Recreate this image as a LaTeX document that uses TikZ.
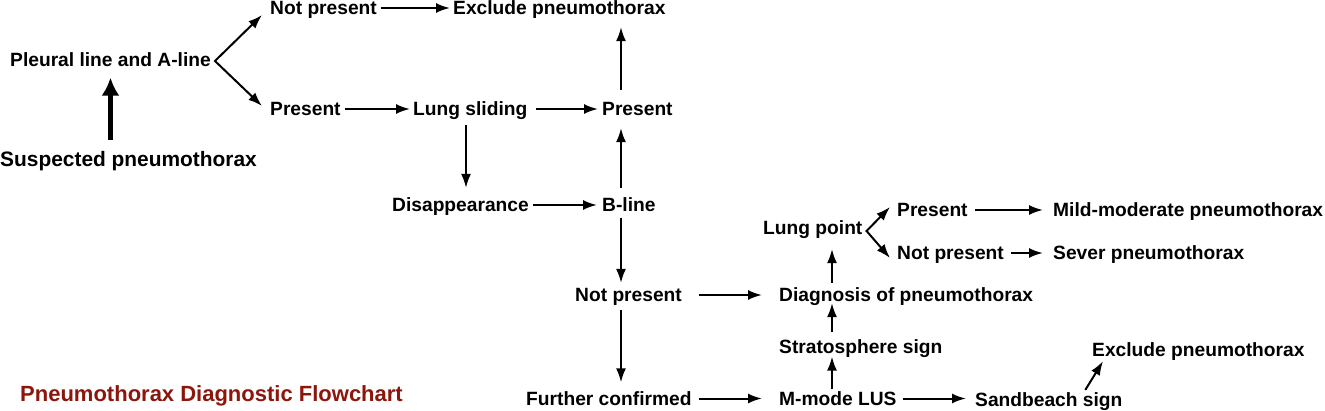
\documentclass[tikz,border=0pt]{standalone}
\usepackage{fontspec}
\setmainfont{Liberation Sans}
\usepackage{tikz}
\usetikzlibrary{
  arrows.meta,
  calc
}
\definecolor{titlered}{RGB}{140,22,12}
\tikzset{>={Latex[length=14pt,width=10pt]}}
\tikzset{txt/.style={font=\bfseries\fontsize{19.2}{23}\selectfont,
    inner sep=0pt, text height=13.8pt, text depth=0pt, anchor=west}}
\tikzset{arr/.style={->, line width=2pt, shorten <=4pt, shorten >=3pt},
  fork/.style={<->, line width=2pt, line join=miter},
  bigarr/.style={-{Latex[length=18pt,width=18pt]}, line width=4.5pt}}

\begin{document}
\begin{tikzpicture}[x=1pt, y=-1pt]
        \useasboundingbox (0,0) rectangle (1325,411);
        % columns of the vertical arrows
        \coordinate (colL) at (466,0);
        \coordinate (colB) at (621,0);
        \coordinate (colM) at (832,0);

        \node[txt] (np1) at (270,8) {Not present};
        \node[txt] (ex1) at (453,8) {Exclude pneumothorax};
        \node[txt] (pl) at (10,59.5) {Pleural line and A-line};
        \node[txt] (pr1) at (270,109) {Present};
        \node[txt] (ls) at (413,109) {Lung sliding};
        \node[txt] (pr2) at (602,109) {Present};
        \node[txt, font=\bfseries\fontsize{20.9}{25}\selectfont, text height=15pt] (sus) at (0,159.5) {Suspected pneumothorax};
        \node[txt] (dis) at (392,205) {Disappearance};
        \node[txt] (bl) at (602,205) {B-line};
        \node[txt] (lp) at (763,228) {Lung point};
        \node[txt] (prL) at (897,210) {Present};
        \node[txt] (mild) at (1053,210) {Mild-moderate pneumothorax};
        \node[txt] (npL) at (897,253) {Not present};
        \node[txt] (sev) at (1053,253) {Sever pneumothorax};
        \node[txt] (np2) at (575,295) {Not present};
        \node[txt] (diag) at (779,295) {Diagnosis of pneumothorax};
        \node[txt] (ss) at (779,346.5) {Stratosphere sign};
        \node[txt] (ex2) at (1092,349.5) {Exclude pneumothorax};
        \node[txt] (fc) at (526,398.5) {Further confirmed};
        \node[txt] (mm) at (779,398.5) {M-mode LUS};
        \node[txt] (sb) at (975,400) {Sandbeach sign};
        \node[txt, font=\bfseries\fontsize{22}{26}\selectfont, text height=15.8pt, text=titlered] (title) at (20,394) {Pneumothorax Diagnostic Flowchart};

        % left part
        \draw[bigarr, shorten <=12pt, shorten >=11pt] (sus.north -| pl.south) -- (pl.south);
        \draw[fork] ([xshift=-8pt,yshift=-7pt]np1.west) -- ([xshift=4pt,yshift=-1.5pt]pl.east) -- ([xshift=-8pt,yshift=3pt]pr1.west);
        \draw[arr] (np1.east) -- (ex1.west);
        \draw[arr] (pr1.east) -- (ls.west);
        \draw[arr, shorten <=8pt, shorten >=4pt] (ls.east) -- (pr2.west);
        \draw[arr, shorten <=9pt, shorten >=10pt] (ls.south -| colL) -- (dis.north -| colL);
        \draw[arr, shorten >=5pt] (dis.east) -- (bl.west);

        % B-line column
        \draw[arr, shorten <=12pt, shorten >=12pt] (pr2.north -| colB) -- (ex1.south -| colB);
        \draw[arr, shorten <=10pt, shorten >=12pt] (bl.north -| colB) -- (pr2.south -| colB);
        \draw[arr, shorten <=6pt, shorten >=5pt] (bl.south -| colB) -- (np2.north -| colB);
        \draw[arr, shorten <=8pt, shorten >=9pt] (np2.south -| colB) -- (fc.north -| colB);
        \draw[arr, shorten <=17pt, shorten >=17pt] (np2.east) -- (diag.west);
        \draw[arr, shorten <=7pt, shorten >=17pt] (fc.east) -- (mm.west);

        % M-mode column
        \draw[arr, shorten <=2pt, shorten >=3pt] (mm.north -| colM) -- (ss.south -| colM);
        \draw[arr, shorten <=7pt, shorten >=1pt] (ss.north -| colM) -- (diag.south -| colM);
        \draw[arr, shorten <=5pt, shorten >=14pt] (diag.north -| colM) -- (lp.south -| colM);
        \draw[fork] ([xshift=-7pt,yshift=3pt]prL.west) -- ([xshift=4pt,yshift=-3pt]lp.east) -- ([xshift=-7pt,yshift=-5pt]npL.west);
        \draw[arr, shorten <=7pt, shorten >=10pt] (prL.east) -- (mild.west);
        \draw[arr, shorten <=7pt, shorten >=10pt] (npL.east) -- (sev.west);
        \draw[arr, shorten <=6pt, shorten >=9pt] (mm.east) -- (sb.west |- mm.east);
        \draw[arr, shorten <=0pt, shorten >=0pt] ([xshift=36.5pt,yshift=3pt]sb.north) -- ([xshift=11pt,yshift=-4.6pt]ex2.south west);
\end{tikzpicture}
\end{document}
